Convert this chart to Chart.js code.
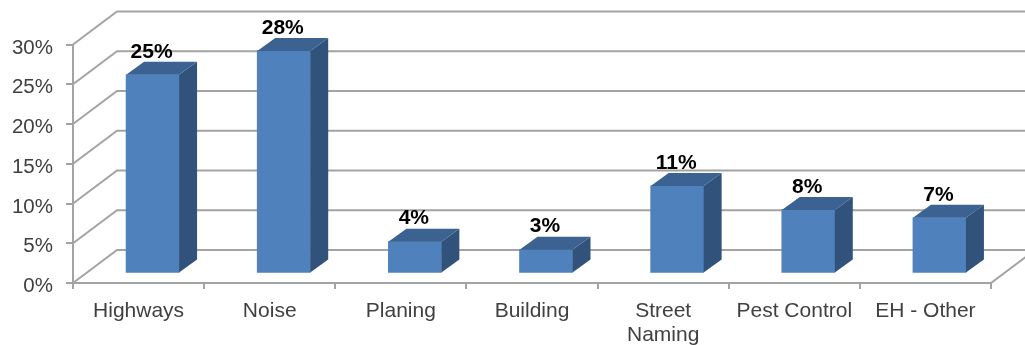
<!DOCTYPE html>
<html>
<head>
<meta charset="utf-8">
<style>
  html, body { margin: 0; background: #fff; }
  canvas { display: block; }
</style>
<script src="https://cdn.jsdelivr.net/npm/chart.js@4"></script>
</head>
<body>
<canvas id="chart" width="1025" height="345"></canvas>
<script>
const categories = ['Highways', 'Noise', 'Planing', 'Building', ['Street', 'Naming'], 'Pest Control', 'EH - Other'];
const percentages = [25, 28, 4, 3, 11, 8, 7];
const maxPercent = 30;
const percentStep = 5;

const FONT = '"Liberation Sans", Arial, sans-serif';
const LINE = '#a3a3a3';
const TEXT = '#404040';

// depth of the room behind the axes, and of each bar
const wall = { dx: 44, dy: -33 };
const barShift = { dx: 14, dy: -9.5 };
const barDepth = { dx: 18, dy: -13 };

function poly(ctx, color, pts) {
  ctx.fillStyle = color;
  ctx.beginPath();
  pts.forEach((p, i) => i ? ctx.lineTo(p[0], p[1]) : ctx.moveTo(p[0], p[1]));
  ctx.closePath();
  ctx.fill();
}

const room3d = {
  id: 'room3d',
  beforeDatasetsDraw(chart) {
    const { ctx, chartArea: a, scales: { y } } = chart;
    ctx.save();
    ctx.strokeStyle = LINE;
    ctx.lineWidth = 2;
    y.ticks.forEach((t) => {
      const py = y.getPixelForValue(t.value);
      ctx.beginPath();
      ctx.moveTo(a.left, py);
      ctx.lineTo(a.left + wall.dx, py + wall.dy);
      ctx.lineTo(a.right + wall.dx, py + wall.dy);
      ctx.stroke();
    });
    // right edge of the floor
    ctx.beginPath();
    ctx.moveTo(a.right, a.bottom);
    ctx.lineTo(a.right + wall.dx, a.bottom + wall.dy);
    ctx.stroke();

    // percent labels sit slightly below their tick marks
    ctx.font = '20.5px ' + FONT;
    ctx.fillStyle = TEXT;
    ctx.textAlign = 'right';
    ctx.textBaseline = 'middle';
    y.ticks.forEach((t) => {
      ctx.fillText(t.value + '%', 53, y.getPixelForValue(t.value) + 3.5);
    });
    ctx.restore();

    // the bars stand a little way back from the front axis
    ctx.save();
    ctx.translate(barShift.dx, barShift.dy);
  },
  afterDatasetsDraw(chart) {
    const { ctx } = chart;
    const bars = chart.getDatasetMeta(0).data;
    bars.forEach((b) => {
      const l = b.x - b.width / 2, r = b.x + b.width / 2;
      poly(ctx, '#31527b', [[r, b.y], [r + barDepth.dx, b.y + barDepth.dy], [r + barDepth.dx, b.base + barDepth.dy], [r, b.base]]);
      poly(ctx, '#3b6291', [[l, b.y], [l + barDepth.dx, b.y + barDepth.dy], [r + barDepth.dx, b.y + barDepth.dy], [r, b.y]]);
    });
    ctx.restore();

    // value labels above each bar
    ctx.save();
    ctx.font = 'bold 21px ' + FONT;
    ctx.fillStyle = '#000';
    ctx.textAlign = 'center';
    ctx.textBaseline = 'middle';
    bars.forEach((b, i) => {
      ctx.fillText(percentages[i] + '%', b.x + barShift.dx - 1, b.y + barShift.dy - 23);
    });
    ctx.restore();
  }
};

new Chart(document.getElementById('chart'), {
  type: 'bar',
  data: {
    labels: categories,
    datasets: [{
      data: percentages,
      backgroundColor: '#4f81bd',
      barThickness: 53,
      clip: false
    }]
  },
  options: {
    responsive: false,
    animation: false,
    layout: { padding: { top: 44.5, right: 34, left: 0, bottom: 0 } },
    plugins: { legend: { display: false }, tooltip: { enabled: false } },
    scales: {
      x: {
        afterFit(s) { s.height = 62; },
        border: { color: LINE, width: 2 },
        grid: { drawOnChartArea: false, color: LINE, lineWidth: 2, tickLength: 6 },
        ticks: { color: TEXT, font: { family: FONT, size: 21, lineHeight: 1.15 }, maxRotation: 0, autoSkip: false, padding: 10 }
      },
      y: {
        min: 0,
        max: maxPercent,
        afterFit(s) { s.width = 73; },
        border: { color: LINE, width: 2 },
        grid: { drawOnChartArea: false, color: LINE, lineWidth: 2, tickLength: 7 },
        ticks: {
          stepSize: percentStep,
          color: 'transparent',
          font: { family: FONT, size: 20 },
          callback: (v) => v + '%'
        }
      }
    }
  },
  plugins: [room3d]
});
</script>
</body>
</html>
